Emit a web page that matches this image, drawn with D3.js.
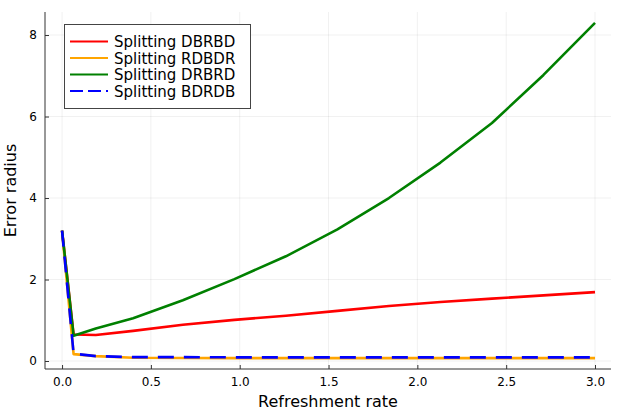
<!DOCTYPE html>
<html><head><meta charset="utf-8">
<script src="https://cdn.jsdelivr.net/npm/d3@7"></script>
<style>body{margin:0;background:#fff}svg{display:block;font-family:"DejaVu Sans",sans-serif}</style>
</head><body><svg id="c" width="623" height="415"></svg>
<script>
const rates = [0, 0.065, 0.19, 0.4, 0.68, 0.97, 1.26, 1.55, 1.84, 2.13, 2.42, 2.71, 3.0];
const dbrbd = [3.2, 0.65, 0.64, 0.74, 0.89, 1.01, 1.11, 1.23, 1.35, 1.45, 1.53, 1.61, 1.69];
const rdbdr = [3.2, 0.17, 0.12, 0.08, 0.075, 0.07, 0.07, 0.07, 0.07, 0.07, 0.07, 0.07, 0.07];
const drbrd = [3.2, 0.62, 0.8, 1.05, 1.49, 2.01, 2.57, 3.23, 4.0, 4.87, 5.84, 7.02, 8.3];
const bdrdb = [3.2, 0.18, 0.12, 0.095, 0.095, 0.09, 0.09, 0.09, 0.09, 0.09, 0.09, 0.09, 0.09];
const seriesNames = ["Splitting DBRBD", "Splitting RDBDR", "Splitting DRBRD", "Splitting BDRDB"];
const seriesColors = ["#ff0000", "#ffa500", "#008000", "#0000ff"];
const xTicks = [0, 0.5, 1, 1.5, 2, 2.5, 3];
const yTicks = [0, 2, 4, 6, 8];

const svg = d3.select("#c");
const L = 45, R = 611, T = 12, B = 369;
const x = d3.scaleLinear().domain([-0.096, 3.09]).range([L, R]);
const y = d3.scaleLinear().domain([-0.196, 8.565]).range([B, T]);

// grid
svg.append("g").selectAll("line").data(xTicks).join("line")
  .attr("x1", d => x(d)).attr("x2", d => x(d)).attr("y1", T).attr("y2", B)
  .attr("stroke", "#000").attr("stroke-opacity", 0.1).attr("stroke-width", 0.6);
svg.append("g").selectAll("line").data(yTicks).join("line")
  .attr("y1", d => y(d)).attr("y2", d => y(d)).attr("x1", L).attr("x2", R)
  .attr("stroke", "#000").attr("stroke-opacity", 0.1).attr("stroke-width", 0.6);

// axes
const xa = svg.append("g").attr("transform", `translate(0,${B})`)
  .call(d3.axisBottom(x).tickValues(xTicks).tickFormat(d3.format(".1f")).tickSizeInner(-4).tickSizeOuter(0).tickPadding(8));
const ya = svg.append("g").attr("transform", `translate(${L},0)`)
  .call(d3.axisLeft(y).tickValues(yTicks).tickFormat(d3.format("d")).tickSizeInner(-4).tickSizeOuter(0).tickPadding(8));
[xa, ya].forEach(a => {
  a.select(".domain").attr("stroke", "#333").attr("stroke-width", 1);
  a.selectAll(".tick line").attr("stroke", "#333");
  a.selectAll(".tick text").attr("font-size", 12).attr("fill", "#000").attr("font-family", "DejaVu Sans, sans-serif");
});
xa.select(".domain").attr("d", `M${L},0H${R}`);
ya.select(".domain").attr("d", `M0,${T}V${B}`);

svg.append("text").attr("x", (L + R) / 2).attr("y", 407).attr("text-anchor", "middle")
  .attr("font-size", 16).text("Refreshment rate");
svg.append("text").attr("transform", `translate(16,${(T + B) / 2}) rotate(-90)`).attr("text-anchor", "middle")
  .attr("font-size", 16).text("Error radius");

// lines
const all = [dbrbd, rdbdr, drbrd, bdrdb];
const line = d3.line().x((d, i) => x(rates[i])).y(d => y(d));
const dash = [null, null, null, "16,10"];
const g = svg.append("g");
all.forEach((s, k) => {
  g.append("path").datum(s).attr("d", line).attr("fill", "none")
    .attr("stroke", seriesColors[k]).attr("stroke-width", 2.6)
    .attr("stroke-linejoin", "round")
    .attr("stroke-dasharray", dash[k]);
});

// legend
const lg = svg.append("g");
lg.append("rect").attr("x", 64.5).attr("y", 24.5).attr("width", 186).attr("height", 84)
  .attr("fill", "#fff").attr("stroke", "#444").attr("stroke-width", 1);
seriesNames.forEach((n, k) => {
  const yy = 41.5 + k * 16.5;
  lg.append("line").attr("x1", 70).attr("x2", 108).attr("y1", yy).attr("y2", yy)
    .attr("stroke", seriesColors[k]).attr("stroke-width", 2).attr("stroke-dasharray", dash[k] ? "13,5" : null);
  lg.append("text").attr("x", 114).attr("y", yy + 5.5).attr("font-size", 15).text(n);
});
</script></body></html>
